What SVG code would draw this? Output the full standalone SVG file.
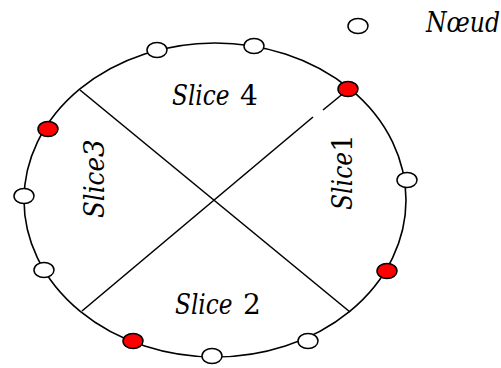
<svg xmlns="http://www.w3.org/2000/svg" width="501" height="368" viewBox="0 0 501 368">
<style>
.n{fill:#fff;stroke:#000;stroke-width:1.5}
.r{fill:#ff0000;stroke:#000;stroke-width:1.5}
.l{stroke:#000;stroke-width:1.6;fill:none}
</style>
<rect width="501" height="368" fill="#fff"/>
<g id="connectors">
<ellipse class="l" cx="215" cy="200" rx="191" ry="157"/>
<line class="l" x1="80" y1="90" x2="350" y2="312"/>
<line class="l" x1="82" y1="311" x2="313" y2="117"/>
<line class="l" x1="323" y1="110" x2="345" y2="92"/>
</g>
<g id="legend">
<ellipse class="n" cx="358" cy="26" rx="10" ry="7.5"/>
<text transform="translate(426,32) scale(0.87,1)" font-family="DejaVu Serif, serif" font-size="27" font-style="italic">Nœud</text>
</g>
<g id="nodes">
<ellipse class="n" cx="157" cy="50" rx="10" ry="7.5"/>
<ellipse class="n" cx="254" cy="46" rx="10" ry="7.5"/>
<ellipse class="r" cx="348" cy="89" rx="10" ry="7.5"/>
<ellipse class="r" cx="48" cy="129" rx="10" ry="7.5"/>
<ellipse class="n" cx="407" cy="180" rx="10" ry="7.5"/>
<ellipse class="n" cx="24" cy="196" rx="10" ry="7.5"/>
<ellipse class="n" cx="44" cy="270" rx="10" ry="7.5"/>
<ellipse class="r" cx="387" cy="271" rx="10" ry="7.5"/>
<ellipse class="r" cx="133" cy="341" rx="10" ry="7.5"/>
<ellipse class="n" cx="212" cy="356" rx="10" ry="7.5"/>
<ellipse class="n" cx="308" cy="341" rx="10" ry="7.5"/>
</g>
<g id="slice4" font-family="DejaVu Serif, serif" font-size="28">
<text transform="translate(172,105) scale(0.83,1)" font-style="italic">Slice</text>
<text x="240" y="105">4</text>
</g>
<g id="slice2" font-family="DejaVu Serif, serif" font-size="28">
<text transform="translate(175,314) scale(0.83,1)" font-style="italic">Slice</text>
<text x="243" y="314">2</text>
</g>
<g id="slice3" font-family="DejaVu Serif, serif" font-size="28">
<text transform="translate(104,218) rotate(-90) scale(0.88,1)" font-style="italic">Slice</text>
<text transform="translate(104,157) rotate(-90)" font-style="italic">3</text>
</g>
<g id="slice1" font-family="DejaVu Serif, serif" font-size="28">
<text transform="translate(352,210) rotate(-90) scale(0.84,1)" font-style="italic">Slice</text>
<text transform="translate(352,152) rotate(-90)">1</text>
</g>
</svg>
